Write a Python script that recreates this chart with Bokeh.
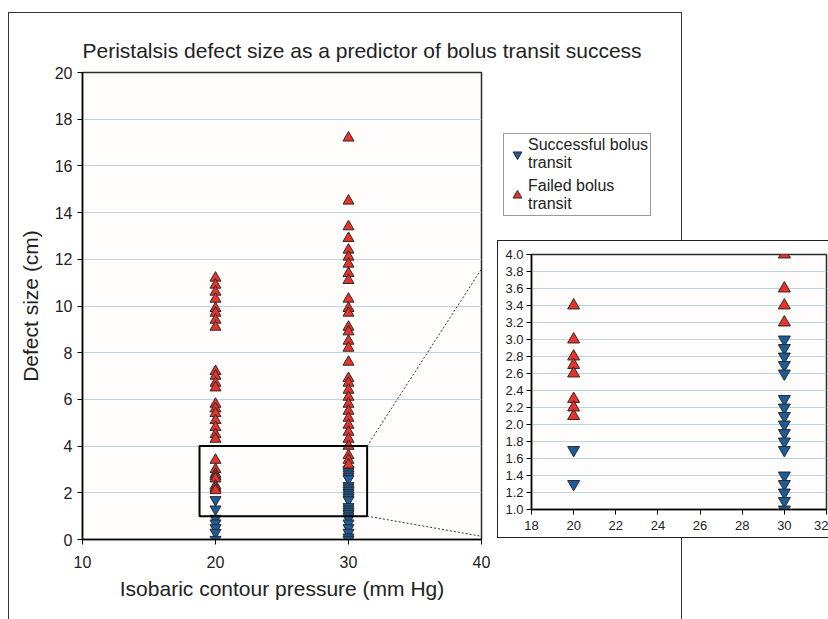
from bokeh.plotting import figure
from bokeh.models import (FixedTicker, NumeralTickFormatter, Legend, LegendItem,
                          Arrow, ColumnDataSource, Range1d)
from bokeh.embed import file_html
from bokeh.resources import INLINE

# ---------------- data ----------------
title_text = "Peristalsis defect size as a predictor of bolus transit success"
x_label = "Isobaric contour pressure (mm Hg)"
y_label = "Defect size (cm)"
label_success = "Successful bolus\ntransit"
label_failed = "Failed bolus\ntransit"

failed_20 = [11.2, 10.9, 10.6, 10.3, 9.9, 9.7, 9.4, 9.1, 7.2, 7.0, 6.7, 6.5,
             5.8, 5.6, 5.4, 5.1, 4.8, 4.5, 4.3, 3.4, 3.0, 2.8, 2.7, 2.6,
             2.3, 2.2, 2.1]
successful_20 = [1.7, 1.3, 0.9, 0.7, 0.5, 0.3, 0.0]
failed_30 = [17.2, 14.5, 13.4, 12.9, 12.4, 12.1, 11.8, 11.4, 11.1, 10.3, 9.9,
             9.7, 9.1, 8.9, 8.5, 8.2, 7.6, 6.9, 6.7, 6.4, 6.1, 5.8, 5.5, 5.2,
             4.9, 4.6, 4.3, 4.0, 3.6, 3.4, 3.2]
successful_30 = [3.0, 2.9, 2.8, 2.7, 2.6, 2.3, 2.2, 2.1, 2.0, 1.9, 1.8, 1.7,
                 1.4, 1.3, 1.2, 1.1, 1.0, 0.9, 0.7, 0.5, 0.3, 0.1, 0.0]

main_x_ticks = [10, 20, 30, 40]
main_y_ticks = [0, 2, 4, 6, 8, 10, 12, 14, 16, 18, 20]
inset_x_ticks = [18, 20, 22, 24, 26, 28, 30, 32]
inset_y_ticks = [1.0, 1.2, 1.4, 1.6, 1.8, 2.0, 2.2, 2.4, 2.6, 2.8, 3.0,
                 3.2, 3.4, 3.6, 3.8, 4.0]
zoom_box_x = [18.8, 31.4]
zoom_box_y = [1.0, 4.0]

# ---------------- styles ----------------
FONT = "Liberation Sans"
RED = "#e8332b"
BLUE = "#1b5c9a"
EDGE = "#2a2a2a"
GRID = "#bcd4e2"
BG = "#fffcfc"


def make_sources():
    fail = ColumnDataSource(dict(x=[20] * len(failed_20) + [30] * len(failed_30),
                                 y=failed_20 + failed_30))
    succ = ColumnDataSource(dict(x=[20] * len(successful_20) + [30] * len(successful_30),
                                 y=successful_20 + successful_30))
    return fail, succ


def style_axes(fig, label_size):
    for ax in (fig.xaxis[0], fig.yaxis[0]):
        ax.minor_tick_line_color = None
        ax.major_tick_in = 0
        ax.major_tick_out = 5
        ax.axis_line_color = "black"
        ax.axis_line_width = 1.5
        ax.major_tick_line_color = "black"
        ax.major_label_text_font = FONT
        ax.major_label_text_font_size = label_size
        ax.major_label_text_color = "#222222"
        ax.axis_label_text_font = FONT
        ax.axis_label_text_font_style = "normal"
        ax.axis_label_text_color = "#222222"


# ---------------- main figure ----------------
src_fail, src_succ = make_sources()
W_MAIN, H_MAIN = 674, 607
p = figure(width=W_MAIN, height=H_MAIN, x_range=Range1d(10, 40), y_range=Range1d(0, 20),
           output_backend="svg", toolbar_location=None,
           min_border_left=73, min_border_right=202, min_border_top=59,
           min_border_bottom=81, title=title_text)
p.title.text_font = FONT
p.title.text_font_size = "21px"
p.title.text_font_style = "normal"
p.title.text_color = "#222222"
p.title.align = "left"
p.title.standoff = 21
p.background_fill_color = BG
p.border_fill_color = "white"
p.outline_line_color = EDGE
p.outline_line_width = 1.5
p.xgrid.visible = False
p.ygrid.ticker = FixedTicker(ticks=main_y_ticks)
p.ygrid.grid_line_color = GRID
p.ygrid.grid_line_width = 1.2
p.xaxis.ticker = FixedTicker(ticks=main_x_ticks)
p.yaxis.ticker = FixedTicker(ticks=main_y_ticks)
p.xaxis.axis_label = x_label
p.yaxis.axis_label = y_label
style_axes(p, "16px")
p.xaxis.axis_label_text_font_size = "21px"
p.yaxis.axis_label_text_font_size = "21px"
p.xaxis.major_label_standoff = 11
p.xaxis.axis_label_standoff = 6
p.yaxis.major_label_standoff = 5
p.yaxis.axis_label_standoff = 10

p.scatter("x", "y", source=src_succ, marker="inverted_triangle", size=11,
          fill_color=BLUE, line_color=EDGE, line_width=1)
p.scatter("x", "y", source=src_fail, marker="triangle", size=11,
          fill_color=RED, line_color=EDGE, line_width=1)

# zoom rectangle
p.quad(left=zoom_box_x[0], right=zoom_box_x[1], bottom=zoom_box_y[0], top=zoom_box_y[1],
       fill_alpha=0, line_color="black", line_width=2)

# connectors towards the inset (inset corner positions expressed in main data units)
px_per_x = 397 / 30.0
px_per_y = 466 / 20.0
inset_left_px = 497 - 82          # from main frame left
inset_top_px = 538 - 240          # from main frame bottom
conn_x = 10 + inset_left_px / px_per_x
conn_top_y = inset_top_px / px_per_y
p.add_layout(Arrow(end=None, x_start=zoom_box_x[1], y_start=zoom_box_y[1],
                   x_end=conn_x, y_end=conn_top_y,
                   line_dash="2 2", line_width=1, line_color="#333333"))
p.add_layout(Arrow(end=None, x_start=zoom_box_x[1], y_start=zoom_box_y[0],
                   x_end=conn_x, y_end=0,
                   line_dash="2 2", line_width=1, line_color="#333333"))

p.styles = {"border-left": "1px solid #333", "border-top": "1px solid #333",
            "border-right": "1px solid #333"}
p.margin = (12, 0, 0, 8)

# ---------------- inset figure ----------------
in_fail, in_succ = make_sources()
W_IN, H_IN = 331, 298
inset = figure(width=W_IN, height=H_IN,
               x_range=Range1d(18, 32), y_range=Range1d(1.0, 4.0),
               output_backend="svg", toolbar_location=None,
               min_border_left=33, min_border_right=3, min_border_top=13,
               min_border_bottom=30)
inset.background_fill_color = BG
inset.border_fill_color = "white"
inset.outline_line_color = EDGE
inset.outline_line_width = 1.5
inset.xgrid.visible = False
inset.ygrid.ticker = FixedTicker(ticks=inset_y_ticks)
inset.ygrid.grid_line_color = GRID
inset.ygrid.grid_line_width = 1.2
inset.xaxis.ticker = FixedTicker(ticks=inset_x_ticks)
inset.yaxis.ticker = FixedTicker(ticks=inset_y_ticks)
inset.yaxis.formatter = NumeralTickFormatter(format="0.0")
style_axes(inset, "13px")
inset.xaxis.major_label_standoff = 6
inset.yaxis.major_label_standoff = 3
inset.scatter("x", "y", source=in_succ, marker="inverted_triangle", size=12,
              fill_color=BLUE, line_color=EDGE, line_width=1)
inset.scatter("x", "y", source=in_fail, marker="triangle", size=12,
              fill_color=RED, line_color=EDGE, line_width=1)
inset.styles = {"position": "absolute", "left": "497px", "top": "240px",
                "border-left": "1px solid #222", "border-top": "1px solid #222",
                "border-bottom": "1px solid #222", "background": "white"}

# ---------------- legend (own small canvas) ----------------
lg_fail, lg_succ = make_sources()
leg_fig = figure(width=170, height=92, x_range=Range1d(0, 1), y_range=Range1d(0, 1),
                 output_backend="svg", toolbar_location=None,
                 min_border=0, min_border_left=0, min_border_right=0,
                 min_border_top=0, min_border_bottom=0)
leg_fig.axis.visible = False
leg_fig.grid.visible = False
leg_fig.outline_line_color = None
leg_fig.background_fill_color = None
leg_fig.border_fill_color = None
lr_succ = leg_fig.scatter("x", "y", source=lg_succ, marker="inverted_triangle", size=11,
                          fill_color=BLUE, line_color=EDGE, line_width=1)
lr_fail = leg_fig.scatter("x", "y", source=lg_fail, marker="triangle", size=11,
                          fill_color=RED, line_color=EDGE, line_width=1)
lr_succ.visible = False
lr_fail.visible = False
legend = Legend(items=[LegendItem(label=label_success, renderers=[lr_succ]),
                       LegendItem(label=label_failed, renderers=[lr_fail])],
                location="top_left")
legend.label_text_font = FONT
legend.label_text_font_size = "16px"
legend.label_text_color = "#222222"
legend.label_text_line_height = 1.15
legend.glyph_width = 22
legend.glyph_height = 26
legend.label_standoff = 0
legend.padding = 2
legend.spacing = 5
legend.margin = 0
legend.border_line_color = "#333333"
legend.border_line_width = 1
legend.background_fill_color = "white"
legend.background_fill_alpha = 1
legend.click_policy = "none"
leg_fig.add_layout(legend, "center")
leg_fig.styles = {"position": "absolute", "left": "503px", "top": "133px"}

open("out.html", "w").write(file_html([p, inset, leg_fig], INLINE))
